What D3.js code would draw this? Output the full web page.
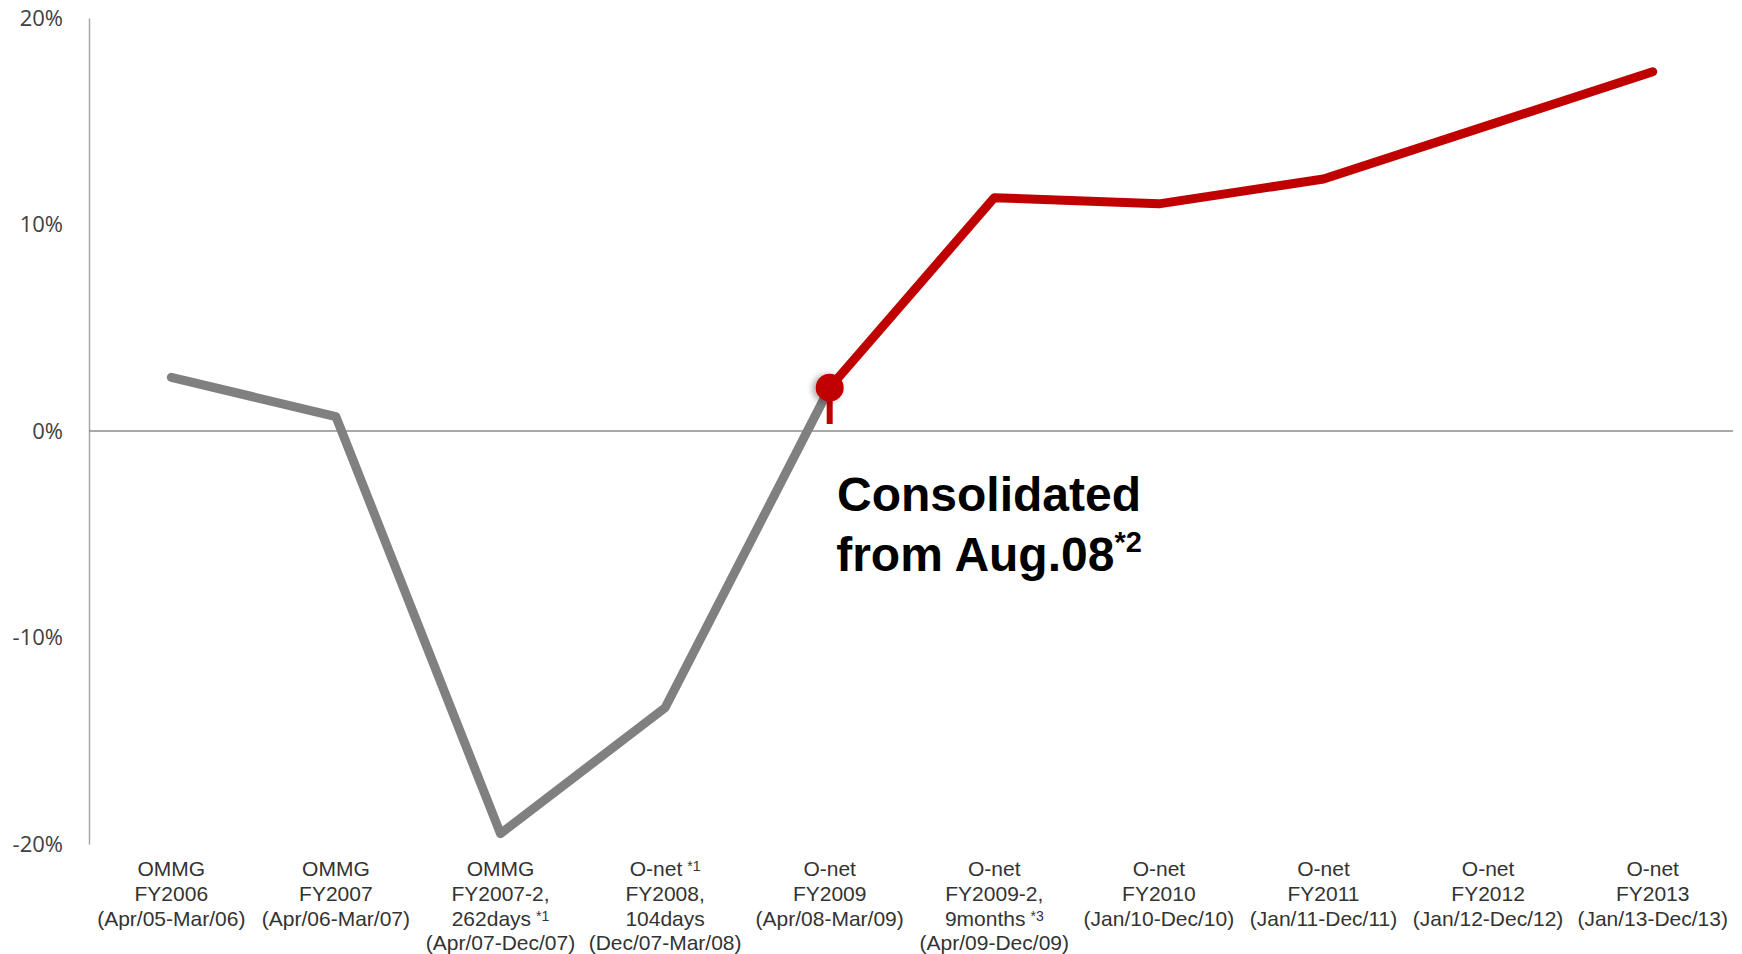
<!DOCTYPE html>
<html>
<head>
<meta charset="utf-8">
<script src="https://cdn.jsdelivr.net/npm/d3@7"></script>
<style>
  body { margin: 0; background: #fff; }
  #chart { width: 1742px; height: 954px; }
</style>
</head>
<body>
<div id="chart"></div>
<script>
// Dữ liệu
const categories = ["c1", "c2", "c3", "c4", "c5", "c6", "c7", "c8", "c9", "c10"];
const labelLines = [
  [["OMMG"], ["FY2006"], ["(Apr/05-Mar/06)"]],
  [["OMMG"], ["FY2007"], ["(Apr/06-Mar/07)"]],
  [["OMMG"], ["FY2007-2,"], ["262days", "*1"], ["(Apr/07-Dec/07)"]],
  [["O-net", "*1"], ["FY2008,"], ["104days"], ["(Dec/07-Mar/08)"]],
  [["O-net"], ["FY2009"], ["(Apr/08-Mar/09)"]],
  [["O-net"], ["FY2009-2,"], ["9months", "*3"], ["(Apr/09-Dec/09)"]],
  [["O-net"], ["FY2010"], ["(Jan/10-Dec/10)"]],
  [["O-net"], ["FY2011"], ["(Jan/11-Dec/11)"]],
  [["O-net"], ["FY2012"], ["(Jan/12-Dec/12)"]],
  [["O-net"], ["FY2013"], ["(Jan/13-Dec/13)"]]
];
const values = [2.6, 0.7, -19.5, -13.4, 2.1, 11.3, 11.0, 12.2, 14.8, 17.4];
const beforeIdx = [0, 1, 2, 3, 4];
const afterIdx = [4, 5, 6, 7, 8, 9];
const markerIdx = 4;
const yTicks = [-20, -10, 0, 10, 20];

const width = 1742, height = 954;
const svg = d3.select("#chart").append("svg")
  .attr("width", width)
  .attr("height", height);

const defs = svg.append("defs");
const shadow = defs.append("filter").attr("id", "shadow")
  .attr("x", "-50%").attr("y", "-50%").attr("width", "200%").attr("height", "200%");
shadow.append("feDropShadow")
  .attr("dx", -3).attr("dy", 1).attr("stdDeviation", 3)
  .attr("flood-color", "#000").attr("flood-opacity", 0.35);

// Trục
const x = d3.scalePoint().domain(categories).range([89, 1735]).padding(0.5);
const y = d3.scaleLinear().domain([-20, 20]).range([844, 18]);

const yAxis = svg.append("g")
  .attr("transform", "translate(89,0)")
  .call(d3.axisLeft(y).tickValues(yTicks).tickSize(0).tickPadding(26)
    .tickFormat(d => d + "%"));
yAxis.select(".domain").attr("stroke", "#a6a6a6").attr("stroke-width", 1.5);
yAxis.selectAll("text")
  .style("font-family", "'Open Sans', 'Liberation Sans', sans-serif")
  .style("font-size", "22px")
  .attr("fill", "#404040");

// Đường 0%
svg.append("line")
  .attr("x1", 89).attr("x2", 1733)
  .attr("y1", y(0)).attr("y2", y(0))
  .attr("stroke", "#8c8c8c").attr("stroke-width", 1.5);

// Nhãn trục x
const xl = svg.append("g")
  .style("font-family", "'Liberation Sans', Arial, sans-serif")
  .attr("fill", "#333");
categories.forEach((c, i) => {
  const t = xl.append("text")
    .attr("x", x(c))
    .attr("y", 876)
    .attr("text-anchor", "middle")
    .style("font-size", "21px");
  labelLines[i].forEach((line, j) => {
    const ts = t.append("tspan")
      .attr("x", x(c))
      .attr("y", 876 + j * 24.8);
    ts.append("tspan").text(line[0]);
    if (line[1]) {
      ts.append("tspan")
        .attr("dx", 5)
        .attr("dy", -5)
        .style("font-size", "14px")
        .text(line[1]);
    }
  });
});

// Vẽ đường
const line = d3.line()
  .x(i => x(categories[i]))
  .y(i => y(values[i]));

svg.append("path")
  .datum(beforeIdx)
  .attr("d", line)
  .attr("fill", "none")
  .attr("stroke", "#808080")
  .attr("stroke-width", 9)
  .attr("stroke-linejoin", "round")
  .attr("stroke-linecap", "round");

svg.append("path")
  .datum(afterIdx)
  .attr("d", line)
  .attr("fill", "none")
  .attr("stroke", "#c00000")
  .attr("stroke-width", 9)
  .attr("stroke-linejoin", "round")
  .attr("stroke-linecap", "round");

// Điểm đánh dấu
const mx = x(categories[markerIdx]), my = y(values[markerIdx]);
svg.append("line")
  .attr("x1", mx).attr("x2", mx)
  .attr("y1", my).attr("y2", y(0) - 7)
  .attr("stroke", "#c00000").attr("stroke-width", 6);
svg.append("circle")
  .attr("cx", mx).attr("cy", my).attr("r", 14)
  .attr("fill", "#c00000")
  .attr("filter", "url(#shadow)");

// Chú thích
const note = svg.append("text")
  .attr("text-anchor", "middle")
  .style("font-family", "'Liberation Sans', Arial, sans-serif")
  .style("font-weight", "bold")
  .style("font-size", "48px")
  .attr("fill", "#000");
note.append("tspan").attr("x", 989).attr("y", 511).text("Consolidated");
const l2 = note.append("tspan").attr("x", 989).attr("y", 571);
l2.append("tspan").text("from Aug.08");
l2.append("tspan").attr("dy", -19).style("font-size", "29px").text("*2");
</script>
</body>
</html>
